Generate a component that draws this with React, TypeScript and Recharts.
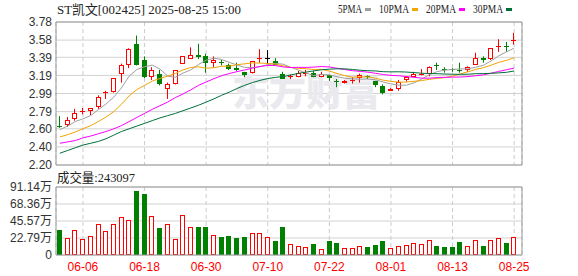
import { Bar, CartesianGrid, ComposedChart, Line, ReferenceLine, XAxis, YAxis } from "recharts";

const dates = [
  "06-03", "06-04", "06-05", "06-06", "06-09", "06-10", "06-11", "06-12", "06-13", "06-16",
  "06-17", "06-18", "06-19", "06-20", "06-23", "06-24", "06-25", "06-26", "06-27", "06-30",
  "07-01", "07-02", "07-03", "07-04", "07-07", "07-08", "07-09", "07-10", "07-11", "07-14",
  "07-15", "07-16", "07-17", "07-18", "07-21", "07-22", "07-23", "07-24", "07-25", "07-28",
  "07-29", "07-30", "07-31", "08-01", "08-04", "08-05", "08-06", "08-07", "08-08", "08-11",
  "08-12", "08-13", "08-14", "08-15", "08-18", "08-19", "08-20", "08-21", "08-22", "08-25",
];

const open = [
  2.63, 2.64, 2.71, 2.79, 2.80, 2.84, 2.99, 3.01, 3.20, 3.30,
  3.54, 3.36, 3.17, 3.21, 3.04, 3.10, 3.32, 3.37, 3.42, 3.40,
  3.33, 3.34, 3.30, 3.27, 3.23, 3.22, 3.37, 3.38, 3.35, 3.21,
  3.17, 3.17, 3.21, 3.22, 3.17, 3.19, 3.13, 3.11, 3.13, 3.16,
  3.18, 3.13, 3.07, 3.02, 3.04, 3.14, 3.17, 3.20, 3.21, 3.30,
  3.26, 3.26, 3.25, 3.25, 3.31, 3.38, 3.37, 3.51, 3.51, 3.57,
];
const high = [
  2.74, 2.73, 2.82, 2.83, 2.83, 2.97, 3.02, 3.16, 3.32, 3.49,
  3.63, 3.40, 3.28, 3.25, 3.11, 3.25, 3.40, 3.50, 3.54, 3.43,
  3.40, 3.36, 3.32, 3.33, 3.23, 3.35, 3.48, 3.47, 3.38, 3.23,
  3.20, 3.24, 3.25, 3.24, 3.23, 3.19, 3.15, 3.14, 3.17, 3.21,
  3.19, 3.13, 3.09, 3.05, 3.14, 3.18, 3.23, 3.26, 3.29, 3.33,
  3.28, 3.27, 3.33, 3.29, 3.44, 3.40, 3.49, 3.59, 3.56, 3.66,
];
const low = [
  2.61, 2.62, 2.69, 2.76, 2.75, 2.82, 2.93, 3.00, 3.11, 3.27,
  3.30, 3.16, 3.14, 3.08, 2.93, 3.09, 3.32, 3.37, 3.37, 3.22,
  3.28, 3.30, 3.25, 3.24, 3.17, 3.21, 3.33, 3.32, 3.31, 3.15,
  3.15, 3.17, 3.18, 3.17, 3.17, 3.13, 3.06, 3.10, 3.10, 3.11,
  3.15, 3.06, 2.98, 3.02, 3.02, 3.12, 3.17, 3.19, 3.18, 3.25,
  3.22, 3.23, 3.22, 3.23, 3.31, 3.33, 3.36, 3.45, 3.45, 3.53,
];
const close = [
  2.62, 2.70, 2.78, 2.80, 2.83, 2.95, 3.01, 3.16, 3.31, 3.48,
  3.31, 3.17, 3.25, 3.09, 3.09, 3.25, 3.40, 3.42, 3.39, 3.33,
  3.36, 3.33, 3.26, 3.25, 3.19, 3.35, 3.38, 3.38, 3.31, 3.15,
  3.18, 3.22, 3.22, 3.17, 3.21, 3.16, 3.12, 3.13, 3.14, 3.19,
  3.17, 3.08, 3.00, 3.04, 3.12, 3.17, 3.21, 3.21, 3.28, 3.29,
  3.25, 3.25, 3.24, 3.28, 3.38, 3.36, 3.49, 3.52, 3.50, 3.58,
];
// 成交量, 万手
const volume = [
  33.7, 22.6, 33.7, 21.3, 25.2, 41.2, 31.9, 41.2, 50.5, 46.9,
  85.5, 81.5, 51.8, 36.3, 41.2, 21.7, 53.1, 37.2, 37.6, 37.6,
  26.6, 24.4, 25.7, 23.0, 24.4, 29.2, 29.2, 24.4, 19.0, 37.6,
  14.6, 12.4, 11.1, 15.1, 8.4, 18.2, 16.4, 9.7, 9.7, 12.4,
  10.2, 13.7, 19.0, 9.7, 12.4, 13.7, 16.4, 15.1, 20.4, 12.4,
  11.1, 11.1, 17.3, 12.4, 20.4, 12.4, 20.4, 23.0, 16.4, 24.31,
];

const ma5 = [
  2.59, 2.63, 2.68, 2.71, 2.746, 2.812, 2.874, 2.95, 3.052, 3.182,
  3.254, 3.286, 3.304, 3.26, 3.182, 3.17, 3.216, 3.25, 3.31, 3.358,
  3.38, 3.366, 3.334, 3.306, 3.278, 3.276, 3.286, 3.31, 3.322, 3.314,
  3.28, 3.248, 3.216, 3.188, 3.2, 3.196, 3.176, 3.158, 3.152, 3.148,
  3.15, 3.142, 3.116, 3.096, 3.082, 3.082, 3.108, 3.15, 3.198, 3.232,
  3.248, 3.256, 3.262, 3.262, 3.28, 3.302, 3.35, 3.406, 3.45, 3.49,
];
const ma10 = [
  2.51, 2.535, 2.565, 2.6, 2.635, 2.68, 2.73, 2.79, 2.87, 2.964,
  3.033, 3.08, 3.127, 3.156, 3.182, 3.212, 3.251, 3.277, 3.285, 3.27,
  3.275, 3.291, 3.292, 3.308, 3.318, 3.328, 3.326, 3.322, 3.314, 3.296,
  3.278, 3.267, 3.263, 3.255, 3.257, 3.238, 3.212, 3.187, 3.17, 3.174,
  3.173, 3.159, 3.137, 3.124, 3.115, 3.116, 3.125, 3.133, 3.147, 3.157,
  3.165, 3.182, 3.206, 3.23, 3.256, 3.275, 3.303, 3.334, 3.356, 3.385,
];
const ma20 = [
  2.44, 2.455, 2.47, 2.5, 2.52, 2.545, 2.57, 2.6, 2.635, 2.68,
  2.725, 2.77, 2.815, 2.855, 2.895, 2.945, 2.985, 3.03, 3.08, 3.117,
  3.154, 3.186, 3.21, 3.232, 3.25, 3.27, 3.289, 3.3, 3.3, 3.283,
  3.277, 3.279, 3.278, 3.282, 3.288, 3.283, 3.269, 3.255, 3.242, 3.235,
  3.226, 3.213, 3.2, 3.19, 3.186, 3.177, 3.169, 3.16, 3.159, 3.166,
  3.169, 3.171, 3.172, 3.177, 3.186, 3.196, 3.214, 3.234, 3.252, 3.271,
];
const ma30 = [
  2.33, 2.36, 2.39, 2.42, 2.44, 2.46, 2.49, 2.53, 2.57, 2.6,
  2.63, 2.66, 2.69, 2.72, 2.745, 2.77, 2.8, 2.83, 2.86, 2.895,
  2.93, 2.97, 3.005, 3.045, 3.08, 3.11, 3.135, 3.155, 3.168, 3.177,
  3.195, 3.213, 3.227, 3.24, 3.252, 3.259, 3.263, 3.262, 3.256, 3.247,
  3.242, 3.239, 3.231, 3.229, 3.23, 3.227, 3.221, 3.214, 3.21, 3.209,
  3.205, 3.203, 3.202, 3.203, 3.209, 3.21, 3.213, 3.218, 3.224, 3.239,
];

const priceTicks = [2.2, 2.4, 2.6, 2.79, 2.99, 3.19, 3.39, 3.58, 3.78];
const volumeTicks = [0, 22.79, 45.57, 68.36, 91.14];
const dateTicks = ["06-06", "06-18", "06-30", "07-10", "07-22", "08-01", "08-13", "08-25"];

const maSeries = [
  { key: "ma5", name: "5PMA", color: "#a0a0a0" },
  { key: "ma10", name: "10PMA", color: "#f2a400" },
  { key: "ma20", name: "20PMA", color: "#ff00ff" },
  { key: "ma30", name: "30PMA", color: "#00703a" },
];

const data = dates.map((date, i) => ({
  date,
  open: open[i],
  high: high[i],
  low: low[i],
  close: close[i],
  vol: volume[i],
  ma5: ma5[i],
  ma10: ma10[i],
  ma20: ma20[i],
  ma30: ma30[i],
}));

const UP = "#ff0000";
const DOWN = "#008000";
const FLAT = "#000000";
const FRAME = "#999999";
const GRID = "#d2d2d2";
const SANS = "'Liberation Sans', Arial, 'Noto Sans CJK SC', sans-serif";
const SONG = "'Liberation Serif', 'Noto Sans CJK SC', serif";
const axisTick = { fontSize: 12, fill: "#333", fontFamily: SANS };

const Candle = (props: any) => {
  const { x, y, width, height, payload } = props;
  const { open: o, close: c, high: h, low: l } = payload;
  const top = Math.min(y, y + height);
  const bottom = Math.max(y, y + height);
  const toY = (v: number) => top + ((h - v) / (h - l)) * (bottom - top);
  const cx = Math.floor(x + width / 2) + 0.5;
  const color = c > o ? UP : c < o ? DOWN : FLAT;
  const bodyTop = Math.round(toY(Math.max(o, c)));
  const bodyBottom = Math.round(toY(Math.min(o, c)));
  const bodyH = bodyBottom - bodyTop;
  const wick = <line x1={cx} x2={cx} y1={top} y2={bottom} stroke={color} strokeWidth={1} />;
  if (c > o && bodyH >= 3) {
    return (
      <g>
        {wick}
        <rect x={cx - 2} y={bodyTop + 0.5} width={4} height={bodyH - 1} fill="#fff" stroke={color} strokeWidth={1} />
      </g>
    );
  }
  return (
    <g>
      {wick}
      <rect x={cx - 2.5} y={bodyTop} width={5} height={Math.max(bodyH, 1)} fill={color} />
    </g>
  );
};

const VolumeBar = (props: any) => {
  const { x, y, width, height, payload } = props;
  const cx = Math.floor(x + width / 2) + 0.5;
  const top = Math.round(Math.min(y, y + height));
  const bottom = Math.round(Math.max(y, y + height));
  if (payload.close >= payload.open) {
    return <rect x={cx - 2} y={top + 0.5} width={4} height={Math.max(bottom - top - 1, 0)} fill="#fff" stroke={UP} strokeWidth={1} />;
  }
  return <rect x={cx - 2.5} y={top} width={5} height={bottom - top} fill={DOWN} />;
};

export default function App() {
  let legendX = 338;
  const legend = maSeries.map((s) => {
    const w = s.name.length * 6;
    const item = { ...s, x: legendX, w };
    legendX += w + 3 + 6 + 8;
    return item;
  });

  return (
    <div style={{ position: "absolute", left: 0, top: 0, width: 578, height: 276, background: "#fff" }}>
      <ComposedChart width={578} height={180} data={data} margin={{ top: 22, right: 0, bottom: 15, left: 0 }}>
        <text x={232} y={106} fontSize={37} fontWeight={900} fill="#e9e9ee" fontFamily="'Noto Sans CJK SC', sans-serif">
          东方财富
        </text>
        <CartesianGrid vertical={false} stroke={GRID} />
        <CartesianGrid horizontal={false} stroke="#cccccc" strokeDasharray="4 3" />
        <XAxis dataKey="date" hide ticks={dateTicks} padding={{ left: 0, right: 4 }} />
        <YAxis
          width={56}
          domain={[2.2, 3.78]}
          ticks={priceTicks}
          interval={0}
          allowDataOverflow
          tickFormatter={(v: number) => v.toFixed(2)}
          tickLine={false}
          tickSize={0}
          tickMargin={4}
          axisLine={{ stroke: FRAME }}
          tick={axisTick}
        />
        <YAxis yAxisId="frame" orientation="right" width={56} domain={[0, 1]} tick={false} tickLine={false} axisLine={{ stroke: FRAME }} />
        <ReferenceLine y={3.78} stroke={FRAME} />
        <ReferenceLine y={2.2} stroke={FRAME} />
        {maSeries.map((s) => (
          <Line
            key={s.key}
            dataKey={s.key}
            name={s.name}
            stroke={s.color}
            strokeWidth={1}
            dot={false}
            activeDot={false}
            type="linear"
            isAnimationActive={false}
          />
        ))}
        <Bar dataKey={(d: any) => [d.low, d.high]} barSize={5} shape={Candle} isAnimationActive={false} />
        <text x={57} y={14} fontSize={13} fill="#222" fontFamily={SONG} textLength={184} lengthAdjust="spacingAndGlyphs">
          ST凯文[002425] 2025-08-25 15:00
        </text>
        {legend.map((s) => (
          <g key={s.key}>
            <text x={s.x} y={13} fontSize={13} fill="#222" fontFamily={SONG} textLength={s.w} lengthAdjust="spacingAndGlyphs">
              {s.name}
            </text>
            <rect x={s.x + s.w + 3} y={8} width={6} height={3} fill={s.color} />
          </g>
        ))}
      </ComposedChart>
      <div style={{ position: "absolute", left: 0, top: 170 }}>
        <ComposedChart width={578} height={106} data={data} margin={{ top: 17, right: 0, bottom: 0, left: 0 }}>
          <CartesianGrid vertical={false} stroke={GRID} />
          <CartesianGrid horizontal={false} stroke="#cccccc" strokeDasharray="4 3" />
          <XAxis
            dataKey="date"
            ticks={dateTicks}
            interval={0}
            padding={{ left: 0, right: 4 }}
            height={21}
            tickLine={false}
            tickSize={0}
            tickMargin={7}
            axisLine={{ stroke: FRAME }}
            tick={{ ...axisTick, fill: UP }}
          />
          <YAxis
            width={56}
            domain={[0, 91.14]}
            ticks={volumeTicks}
            interval={0}
            allowDataOverflow
            tickFormatter={(v: number) => (v === 0 ? "0" : `${v.toFixed(2)}万`)}
            tickLine={false}
            tickSize={0}
            tickMargin={4}
            axisLine={{ stroke: FRAME }}
            tick={axisTick}
          />
          <YAxis yAxisId="frame" orientation="right" width={56} domain={[0, 1]} tick={false} tickLine={false} axisLine={{ stroke: FRAME }} />
          <ReferenceLine y={91.14} stroke={FRAME} />
          <Bar dataKey="vol" barSize={5} shape={VolumeBar} isAnimationActive={false} />
          <text x={57} y={11.5} fontSize={13} fill="#222" fontFamily={SONG} textLength={78} lengthAdjust="spacingAndGlyphs">
            成交量:243097
          </text>
        </ComposedChart>
      </div>
    </div>
  );
}
